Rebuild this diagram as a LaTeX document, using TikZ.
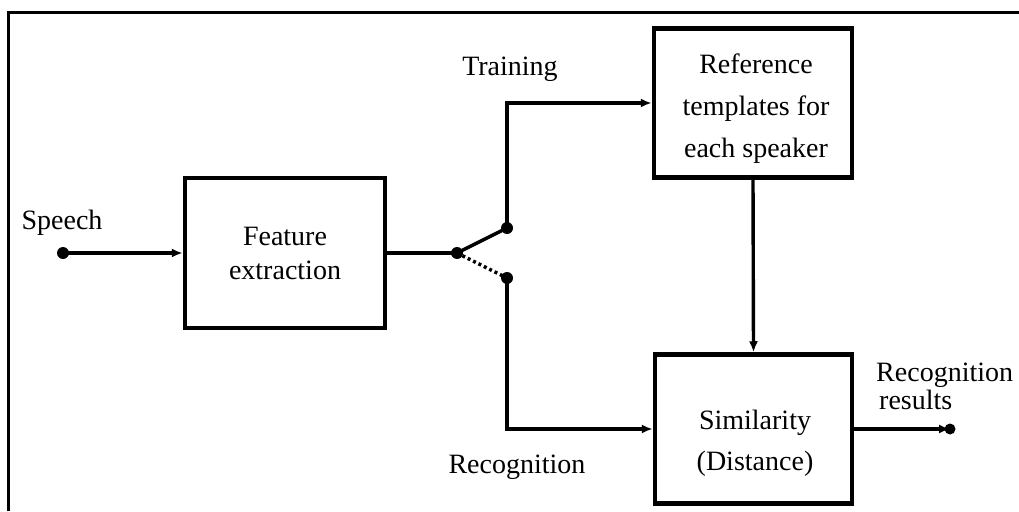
\documentclass[tikz,border=0pt]{standalone}
\usepackage{fontspec}
\setmainfont{Liberation Serif}
\usetikzlibrary{arrows.meta}
\begin{document}
\begin{tikzpicture}[x=1pt,y=-1pt,
  blk/.style={draw,line width=4.5pt,minimum width=200pt,minimum height=150pt,align=center,font=\fontsize{28}{34}\selectfont,inner sep=0pt},
  btxt/.style={align=center,inner sep=0pt},
  lbl/.style={font=\fontsize{28}{32}\selectfont,inner sep=0pt,align=left},
  conn/.style={line width=3.4pt},
  arr/.style={conn,-{Latex[length=11pt,width=9pt]}},
  dotc/.style={circle,fill,inner sep=0pt,minimum size=12pt}]
\useasboundingbox (0,0) rectangle (1019,511);
\draw[line width=3pt] (8,511) -- (8,13) -- (1019,13);
% nodes
\node[blk] (fe) at (285,253) {Feature\\extraction};
\node[blk,minimum width=198pt,minimum height=149pt] (ref) at (753,103) {};
\node[btxt,font=\fontsize{28}{42}\selectfont] (reft) at (756,109) {Reference\\templates for\\each speaker};
\node[blk,minimum width=197pt,minimum height=149pt] (sim) at (753.5,429) {};
\node[btxt,font=\fontsize{28}{41}\selectfont] (simt) at (755,443) {Similarity\\(Distance)};
\node[dotc] (sp) at (63,253) {};
\node[dotc,minimum size=12pt] (piv) at (457,253) {};
\node[dotc,minimum size=12pt] (up) at (507,228) {};
\node[dotc,minimum size=12pt] (lo) at (507,278) {};
\node[dotc,minimum size=11pt] (out) at (950,429) {};
\coordinate (tc) at (507,103);
\coordinate (rc) at (507,429);
% labels
\node[lbl] (lsp) at (62,223) {Speech};
\node[lbl] (ltr) at (510,69) {Training};
\node[lbl] (lrc) at (517,467) {Recognition};
\node[lbl,anchor=west] (lres) at (876,386) {Recognition\\[-4pt]\hspace*{3pt}results};
% connectors
\draw[arr] (sp.center) -- (fe.west);
\draw[conn] (fe.east) -- (piv.center);
\draw[conn] (piv.center) -- (up.center);
\draw[conn,dash pattern=on 3pt off 3pt] (piv.center) -- (lo.center);
\draw[arr] (up.center) -- (tc) -- (ref.west |- tc);
\draw[arr] (lo.center) -- (rc) -- (sim.west |- rc);
\draw[arr] (ref.south) -- (sim.north);
\draw[arr] (sim.east |- out) -- (out.center);
\end{tikzpicture}
\end{document}
